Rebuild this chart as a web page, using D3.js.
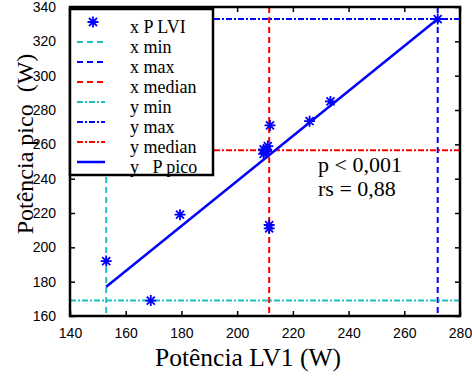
<!DOCTYPE html>
<html>
<head>
<meta charset="utf-8">
<script src="https://cdn.jsdelivr.net/npm/d3@7"></script>
<style>
  body { margin: 0; background: #fff; }
  text { fill: #000; }
  .serif { font-family: "Liberation Serif", "Times New Roman", Times, serif; }
  .sans { font-family: "Liberation Sans", Arial, sans-serif; }
</style>
</head>
<body>
<div id="chart"></div>
<script>
// measured values: x = Potência LV1, y = Potência pico
var plviX = [153, 169, 179.5, 209.5, 209.5, 210.5, 211, 211.5, 211.5, 211.8, 226, 233.5, 272];
var picoY = [192, 169, 219, 254.5, 257, 256, 259, 211, 213, 271, 273.5, 285, 333];

var xStats = { min: 153, max: 272, median: 211.5 };
var yStats = { min: 169, max: 333, median: 256.5 };
var fitX = [153, 272];
var fitY = [177, 333];

var xTicks = [140, 160, 180, 200, 220, 240, 260, 280];
var yTicks = [160, 180, 200, 220, 240, 260, 280, 300, 320, 340];

var legendLabels = ["x P LVI", "x min", "x max", "x median", "y min", "y max", "y median", "y   P pico"];

var cyan = "#1fbfbf", blue = "#0000ff", red = "#ff0000";
var dashed = "6,4", dashDot = "6,2,2,2";

var W = 472, H = 376;
var margin = { top: 7, right: 12, bottom: 60, left: 70 };
var width = W - margin.left - margin.right;
var height = H - margin.top - margin.bottom;

var svg = d3.select("#chart").append("svg")
    .attr("width", W)
    .attr("height", H);

var g = svg.append("g")
    .attr("transform", "translate(" + margin.left + "," + margin.top + ")");

var x = d3.scaleLinear().domain([140, 280]).range([0, width]);
var y = d3.scaleLinear().domain([160, 340]).range([height, 0]);

// axes with ticks pointing inward
function styleAxis(sel) {
    sel.attr("font-family", null).attr("font-size", null);
    sel.select(".domain").remove();
    sel.selectAll(".tick line").attr("stroke", "#000").attr("stroke-width", 1.5);
    sel.selectAll("text").attr("class", "sans").style("font-size", "14px").attr("fill", "#000");
}

g.append("g")
    .attr("transform", "translate(0," + height + ")")
    .call(d3.axisBottom(x).tickValues(xTicks).tickSizeInner(-5).tickSizeOuter(0).tickPadding(12))
    .call(styleAxis);
g.append("g")
    .call(d3.axisTop(x).tickValues(xTicks).tickSizeInner(-5).tickSizeOuter(0).tickFormat(""))
    .call(styleAxis);
g.append("g")
    .call(d3.axisLeft(y).tickValues(yTicks).tickSizeInner(-5).tickSizeOuter(0).tickPadding(14))
    .call(styleAxis);
g.append("g")
    .attr("transform", "translate(" + width + ",0)")
    .call(d3.axisRight(y).tickValues(yTicks).tickSizeInner(-5).tickSizeOuter(0).tickFormat(""))
    .call(styleAxis);

// reference lines
function vline(v, color, dash) {
    g.append("line")
        .attr("x1", x(v)).attr("x2", x(v))
        .attr("y1", 0).attr("y2", height)
        .attr("stroke", color).attr("stroke-width", 2)
        .attr("stroke-dasharray", dash);
}
function hline(v, color, dash) {
    g.append("line")
        .attr("x1", 0).attr("x2", width)
        .attr("y1", y(v)).attr("y2", y(v))
        .attr("stroke", color).attr("stroke-width", 2)
        .attr("stroke-dasharray", dash);
}
vline(xStats.min, cyan, dashed);
vline(xStats.max, blue, dashed);
vline(xStats.median, red, dashed);
hline(yStats.min, cyan, dashDot);
hline(yStats.max, blue, dashDot);
hline(yStats.median, red, dashDot);

// fitted line
g.append("line")
    .attr("x1", x(fitX[0])).attr("y1", y(fitY[0]))
    .attr("x2", x(fitX[1])).attr("y2", y(fitY[1]))
    .attr("stroke", blue).attr("stroke-width", 2.5);

// asterisk marker
var starPath = "M0,-5.5V5.5M-5.5,0H5.5M-4,-4L4,4M-4,4L4,-4";
g.selectAll(".pt")
    .data(plviX.map(function(d, i) { return [d, picoY[i]]; }))
    .enter().append("path")
    .attr("class", "pt")
    .attr("d", starPath)
    .attr("transform", function(d) { return "translate(" + x(d[0]) + "," + y(d[1]) + ")"; })
    .attr("stroke", blue).attr("stroke-width", 1.8).attr("fill", "none");

// frame
g.append("rect")
    .attr("width", width).attr("height", height)
    .attr("fill", "none").attr("stroke", "#000").attr("stroke-width", 2.5);

// legend
var lg = g.append("g");
lg.append("rect")
    .attr("x", 0).attr("y", 2)
    .attr("width", 143).attr("height", 166)
    .attr("fill", "#fff").attr("stroke", "#000").attr("stroke-width", 2.5);

var legendStyle = [
    null,
    { c: cyan, d: dashed }, { c: blue, d: dashed }, { c: red, d: dashed },
    { c: cyan, d: dashDot }, { c: blue, d: dashDot }, { c: red, d: dashDot },
    { c: blue, d: null }
];
legendLabels.forEach(function(lbl, i) {
    var cy = 15 + i * 20;
    if (i === 0) {
        lg.append("path").attr("d", starPath)
            .attr("transform", "translate(23," + cy + ")")
            .attr("stroke", blue).attr("stroke-width", 1.8).attr("fill", "none");
    } else {
        lg.append("line")
            .attr("x1", 7).attr("x2", 35)
            .attr("y1", cy).attr("y2", cy)
            .attr("stroke", legendStyle[i].c)
            .attr("stroke-width", i === 7 ? 2.5 : 2)
            .attr("stroke-dasharray", legendStyle[i].d);
    }
    lg.append("text")
        .attr("class", "serif")
        .attr("x", 60).attr("y", cy + 11)
        .style("font-size", "18px")
        .style("white-space", "pre")
        .text(lbl);
});

// annotation
svg.append("text").attr("class", "serif")
    .attr("x", 318).attr("y", 172)
    .style("font-size", "22px").style("white-space", "pre")
    .text("p < 0,001");
svg.append("text").attr("class", "serif")
    .attr("x", 318).attr("y", 196)
    .style("font-size", "22px").style("white-space", "pre")
    .text("rs = 0,88");

// axis titles
svg.append("text").attr("class", "serif")
    .attr("x", 248).attr("y", 366)
    .attr("text-anchor", "middle")
    .style("font-size", "25.5px")
    .text("Potência LV1 (W)");
svg.append("text").attr("class", "serif")
    .attr("transform", "translate(33,144) rotate(-90)")
    .attr("text-anchor", "middle")
    .style("font-size", "24px")
    .style("white-space", "pre")
    .text("Potência pico  (W)");
</script>
</body>
</html>
